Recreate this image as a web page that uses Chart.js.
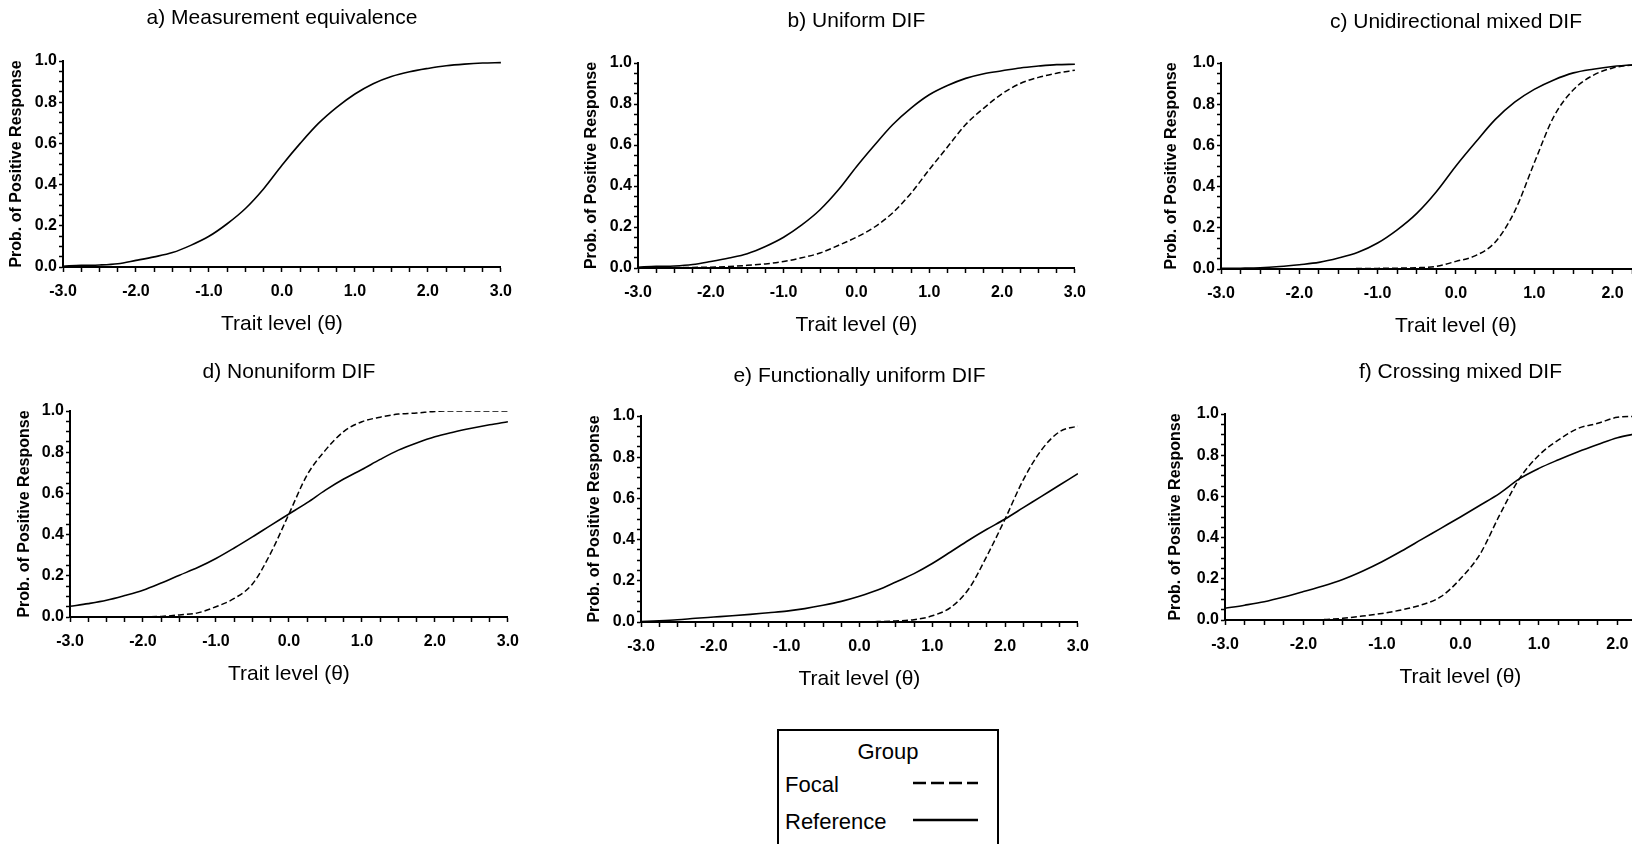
<!DOCTYPE html>
<html>
<head>
<meta charset="utf-8">
<script src="https://cdn.jsdelivr.net/npm/chart.js@4"></script>
<style>
html,body{margin:0;padding:0;background:#fff;overflow:hidden;width:1632px;height:844px;position:relative;}
canvas{position:absolute;}
#legend{position:absolute;left:777px;top:729px;width:218px;height:140px;border:2px solid #000;
  font-family:"Liberation Sans",Arial,sans-serif;font-size:22px;color:#000;}
#legend .t{position:absolute;line-height:24px;white-space:nowrap;}
#legend svg{position:absolute;}
</style>
</head>
<body>
<div id="legend">
  <div class="t" style="left:0;width:100%;text-align:center;top:9px;">Group</div>
  <div class="t" style="left:6px;top:42px;">Focal</div>
  <div class="t" style="left:6px;top:79px;">Reference</div>
  <svg style="left:134px;top:48px;" width="66" height="8"><line x1="0" y1="4" x2="65" y2="4" stroke="#000" stroke-width="2.5" stroke-dasharray="13 5"/></svg>
  <svg style="left:134px;top:85px;" width="66" height="8"><line x1="0" y1="4" x2="65" y2="4" stroke="#000" stroke-width="2.5"/></svg>
</div>
<script>
// ---- data ----
const thetas = [-3,-2.75,-2.5,-2.25,-2,-1.75,-1.5,-1.25,-1,-0.75,-0.5,-0.25,0,0.25,0.5,0.75,1,1.25,1.5,1.75,2,2.25,2.5,2.75,3];

const refA   = [0.004,0.008,0.01,0.016,0.032,0.049,0.07,0.105,0.149,0.21,0.284,0.38,0.494,0.60,0.697,0.775,0.84,0.89,0.925,0.948,0.964,0.977,0.985,0.99,0.992];

const refB   = [0.004,0.008,0.01,0.017,0.032,0.049,0.07,0.105,0.15,0.21,0.284,0.38,0.494,0.60,0.70,0.78,0.845,0.89,0.925,0.948,0.962,0.976,0.985,0.992,0.994];
const focalB = [0.0,0.001,0.002,0.003,0.004,0.007,0.013,0.02,0.032,0.05,0.073,0.11,0.15,0.20,0.27,0.365,0.48,0.59,0.70,0.78,0.85,0.90,0.93,0.95,0.965];

const refC   = [0.003,0.004,0.006,0.012,0.021,0.032,0.053,0.081,0.126,0.19,0.27,0.375,0.5,0.615,0.725,0.81,0.872,0.918,0.952,0.97,0.983,0.99,0.993,0.996,0.997];
const focalC = [0,0,0,0,0,0.001,0.001,0.002,0.003,0.004,0.006,0.013,0.037,0.065,0.13,0.28,0.515,0.74,0.87,0.94,0.976,0.99,0.995,0.998,0.999];

const refD   = [0.052,0.065,0.081,0.104,0.13,0.165,0.203,0.24,0.284,0.335,0.389,0.445,0.5,0.555,0.616,0.67,0.716,0.765,0.81,0.845,0.875,0.897,0.916,0.933,0.948];
const focalD = [0,0,0,0,0.001,0.003,0.01,0.02,0.05,0.09,0.16,0.31,0.5,0.69,0.81,0.90,0.948,0.97,0.985,0.99,0.998,1.0,1.0,1.0,1.0];

const refE   = [0.002,0.006,0.011,0.018,0.024,0.03,0.037,0.045,0.053,0.065,0.081,0.1,0.125,0.155,0.194,0.235,0.284,0.34,0.397,0.45,0.5,0.555,0.61,0.665,0.72];
const focalE = [0,0,0,0,0,0,0,0,0,0,0,0,0.001,0.002,0.005,0.011,0.03,0.07,0.16,0.32,0.5,0.69,0.835,0.924,0.951];

const refF   = [0.057,0.072,0.089,0.112,0.138,0.165,0.197,0.237,0.283,0.335,0.39,0.445,0.5,0.557,0.615,0.685,0.736,0.778,0.817,0.852,0.885,0.905,0.925,0.94,0.95];
const focalF = [0,0,0,0,0.001,0.002,0.008,0.019,0.032,0.049,0.073,0.113,0.20,0.32,0.51,0.685,0.80,0.874,0.93,0.955,0.984,0.989,0.992,0.995,0.997];

const titles = ['a) Measurement equivalence','b) Uniform DIF','c) Unidirectional mixed DIF',
                'd) Nonuniform DIF','e) Functionally uniform DIF','f) Crossing mixed DIF'];
const refSeries   = [refA, refB, refC, refD, refE, refF];
const focalSeries = [null, focalB, focalC, focalD, focalE, focalF];
const xTitle = 'Trait level (θ)';
const yTitle = 'Prob. of Positive Response';

// ---- layout (positions only) ----
const FONT = '"Liberation Sans", Arial, sans-serif';
const Y_W = 63, X_H = 70, TOP_H = 61, PAD_R = 16;
const layouts = [
  {left:0,    top:0,   plotW:443, plotH:206, tp:6,  yp:7},
  {left:575,  top:2,   plotW:442, plotH:205, tp:7,  yp:7},
  {left:1158, top:2,   plotW:475, plotH:206, tp:8,  yp:4},
  {left:7,    top:350, plotW:443, plotH:206, tp:10, yp:8},
  {left:578,  top:355, plotW:442, plotH:206, tp:9,  yp:7},
  {left:1162, top:353, plotW:476, plotH:206, tp:7,  yp:4}
];
const TITLE_SIZE = 21;
const TICK_SIZE = 16;

function fmt(v){ const r = Math.round(v*10)/10; return (Math.abs(r) < 1e-9 ? 0 : r).toFixed(1); }
function onStep(v, s){ const q = v/s; return Math.abs(q - Math.round(q)) < 1e-6; }

function makeChart(i){
  const L = layouts[i];
  const W = Y_W + L.plotW + PAD_R;
  const H = TOP_H + L.plotH + X_H;
  const cv = document.createElement('canvas');
  cv.width = W; cv.height = H;
  cv.style.left = L.left + 'px'; cv.style.top = L.top + 'px';
  cv.style.width = W + 'px'; cv.style.height = H + 'px';
  document.body.appendChild(cv);

  const datasets = [];
  if (focalSeries[i]) {
    datasets.push({label:'Focal', data: thetas.map((t,k)=>({x:t, y:focalSeries[i][k]})),
      borderColor:'#000', borderWidth:1.5, borderDash:[6,3], pointRadius:0,
      cubicInterpolationMode:'monotone', fill:false});
  }
  datasets.push({label:'Reference', data: thetas.map((t,k)=>({x:t, y:refSeries[i][k]})),
    borderColor:'#000', borderWidth:1.6, pointRadius:0,
    cubicInterpolationMode:'monotone', fill:false});

  const titleLH = TITLE_SIZE * 1.2;
  new Chart(cv, {
    type:'line',
    data:{datasets},
    options:{
      responsive:false, animation:false, devicePixelRatio:1,
      layout:{padding:{left:0, top:0, right:PAD_R, bottom:0}},
      plugins:{
        legend:{display:false}, tooltip:{enabled:false},
        title:{display:true, text:titles[i], fullSize:false, color:'#000',
          font:{family:FONT, size:TITLE_SIZE, weight:'normal', lineHeight:1.2},
          padding:{top:L.tp, bottom:TOP_H - L.tp - titleLH}}
      },
      scales:{
        x:{type:'linear', min:-3, max:3,
          afterFit: s => { s.height = X_H; },
          ticks:{stepSize:0.25, autoSkip:false, maxRotation:0, minRotation:0, padding:10, color:'#000',
            font:{family:FONT, size:TICK_SIZE, weight:'bold', lineHeight:1.2},
            callback: v => onStep(v,1) ? fmt(v) : ''},
          grid:{drawOnChartArea:false, drawTicks:true, tickLength:5, tickColor:'#000', tickWidth:1.5, color:'#000'},
          border:{display:true, color:'#000', width:2},
          title:{display:true, text:xTitle, color:'#000',
            font:{family:FONT, size:21, weight:'normal', lineHeight:1.2}, padding:{top:0, bottom:0}}
        },
        y:{type:'linear', min:0, max:1,
          afterFit: s => { s.width = Y_W; },
          ticks:{stepSize:0.05, autoSkip:false, padding:2, color:'#000',
            font:{family:FONT, size:TICK_SIZE, weight:'bold', lineHeight:1.2},
            callback: v => onStep(v,0.2) ? fmt(v) : ''},
          grid:{drawOnChartArea:false, drawTicks:true, tickLength:4, tickColor:'#000', tickWidth:1.5, color:'#000'},
          border:{display:true, color:'#000', width:2},
          title:{display:true, text:yTitle, color:'#000',
            font:{family:FONT, size:16, weight:'bold', lineHeight:1.2}, padding:{top:L.yp, bottom:0}}
        }
      }
    }
  });
}
for (let i = 0; i < 6; i++) makeChart(i);
</script>
</body>
</html>
